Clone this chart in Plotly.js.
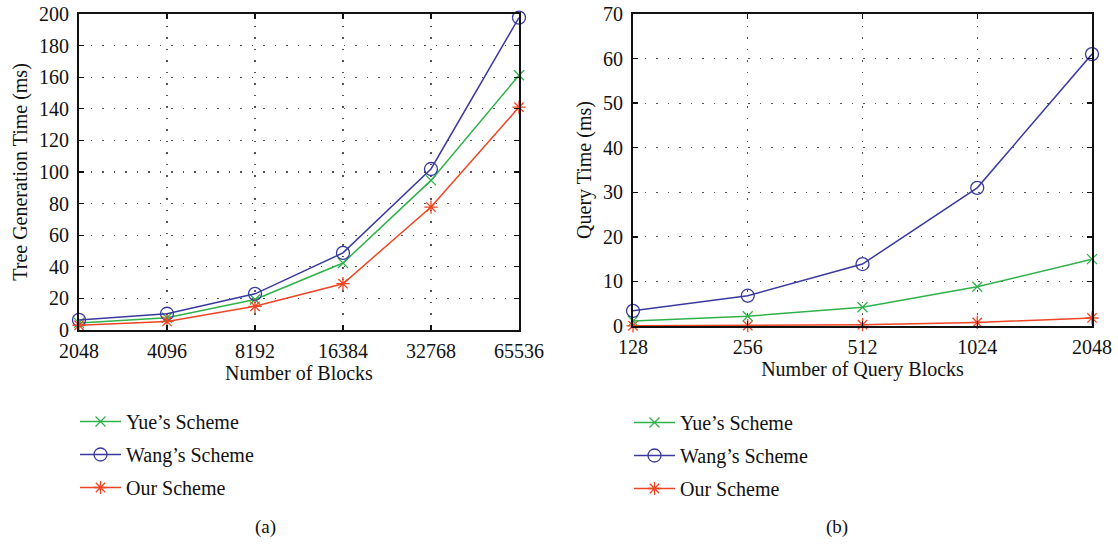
<!DOCTYPE html>
<html>
<head>
<meta charset="utf-8">
<script src="https://cdn.plot.ly/plotly-3.0.1.min.js"></script>
<style>html,body{margin:0;padding:0;background:#fff;}#chart{width:1118px;height:546px;}</style>
</head>
<body>
<div id="chart"></div>
<script>
// ---- Data ----
var blocks = ['2048', '4096', '8192', '16384', '32768', '65536'];
var treeYue  = [4.5, 7.7, 19.3, 42.4, 94.7, 161.2];
var treeWang = [6.4, 10.3, 22.9, 48.8, 101.9, 197.7];
var treeOur  = [3.0, 5.4, 15.0, 29.3, 77.8, 141.0];

var queryBlocks = ['128', '256', '512', '1024', '2048'];
var queryYue  = [1.1, 2.2, 4.2, 8.8, 15.0];
var queryWang = [3.4, 6.8, 13.9, 31.0, 61.0];
var queryOur  = [0.05, 0.1, 0.3, 0.8, 1.8];

var seriesNames = ["Yue’s Scheme", "Wang’s Scheme", "Our Scheme"];
var treeTicks = [0, 20, 40, 60, 80, 100, 120, 140, 160, 180, 200];
var queryTicks = [0, 10, 20, 30, 40, 50, 60, 70];

// ---- Styles ----
var FONT = 'Liberation Serif, Times New Roman, serif';
var colors = ['#2fb24a', '#3a3a9e', '#f04523'];
var symbols = ['x-thin-open', 'circle-open', 'asterisk-open'];
var sizes = [10, 13, 11];

function mk(name, xs, ys, i, xa, ya, leg) {
  return {
    type: 'scatter', mode: 'lines+markers', name: name,
    x: xs, y: ys, xaxis: xa, yaxis: ya,
    legend: leg, legendgroup: leg + i,
    line: {color: colors[i], width: 1.5},
    marker: {symbol: symbols[i], size: sizes[i], color: colors[i], line: {color: colors[i], width: 1.3}},
    cliponaxis: false
  };
}

var leftData = [treeYue, treeWang, treeOur];
var rightData = [queryYue, queryWang, queryOur];
var traces = [];
for (var i = 0; i < 3; i++) traces.push(mk(seriesNames[i], blocks, leftData[i], i, 'x', 'y', 'legend'));
for (var j = 0; j < 3; j++) traces.push(mk(seriesNames[j], queryBlocks, rightData[j], j, 'x2', 'y2', 'legend2'));

function axisBase() {
  return {
    showline: true, linecolor: '#111', linewidth: 2, mirror: 'ticks',
    ticks: 'inside', ticklen: 5, tickwidth: 1.3, tickcolor: '#111',
    showgrid: true, gridcolor: '#555', gridwidth: 1.2, griddash: '1.5px,10px',
    zeroline: false, automargin: false,
    tickfont: {family: FONT, size: 20, color: '#111'}
  };
}

var W = 1118, H = 546;
var TF = {family: FONT, size: 20, color: '#111'};
var xa = axisBase();
Object.assign(xa, {type: 'category', range: [0, blocks.length - 1], domain: [79 / W, 519 / W], anchor: 'y',
  ticklabelstandoff: 2,
  title: {text: 'Number of Blocks', font: TF, standoff: 2}});
var ya = axisBase();
Object.assign(ya, {range: [0, 200], tickvals: treeTicks, domain: [1 - 330 / H, 1 - 14 / H], anchor: 'x',
  ticklabelstandoff: 4,
  title: {text: 'Tree Generation Time (ms)', font: TF, standoff: 6}});
var xa2 = axisBase();
Object.assign(xa2, {type: 'category', range: [0, queryBlocks.length - 1], domain: [633 / W, 1092 / W], anchor: 'y2',
  ticklabelstandoff: 2,
  title: {text: 'Number of Query Blocks', font: TF, standoff: 2}});
var ya2 = axisBase();
Object.assign(ya2, {range: [0, 70], tickvals: queryTicks, domain: [1 - 326 / H, 1 - 14 / H], anchor: 'x2',
  ticklabelstandoff: 4,
  title: {text: 'Query Time (ms)', font: TF, standoff: 6}});

var legFont = {family: FONT, size: 20, color: '#111'};
var layout = {
  width: W, height: H,
  margin: {l: 0, r: 0, t: 0, b: 0},
  paper_bgcolor: '#fff', plot_bgcolor: '#fff',
  font: {family: FONT, color: '#111'},
  showlegend: true,
  xaxis: xa, yaxis: ya, xaxis2: xa2, yaxis2: ya2,
  legend: {x: 75 / W, y: 1 - 402 / H, xanchor: 'left', yanchor: 'top', font: legFont,
    traceorder: 'grouped', tracegroupgap: 4, bgcolor: 'rgba(0,0,0,0)', itemwidth: 41},
  legend2: {x: 629 / W, y: 1 - 403 / H, xanchor: 'left', yanchor: 'top', font: legFont,
    traceorder: 'grouped', tracegroupgap: 4, bgcolor: 'rgba(0,0,0,0)', itemwidth: 41},
  annotations: [
    {text: '(a)', x: 265 / W, y: 1 - 527 / H, xref: 'paper', yref: 'paper', xanchor: 'center', yanchor: 'middle', showarrow: false, font: {family: FONT, size: 19, color: '#111'}},
    {text: '(b)', x: 837 / W, y: 1 - 527 / H, xref: 'paper', yref: 'paper', xanchor: 'center', yanchor: 'middle', showarrow: false, font: {family: FONT, size: 19, color: '#111'}}
  ]
};

Plotly.newPlot('chart', traces, layout, {displayModeBar: false, staticPlot: true});
</script>
</body>
</html>
